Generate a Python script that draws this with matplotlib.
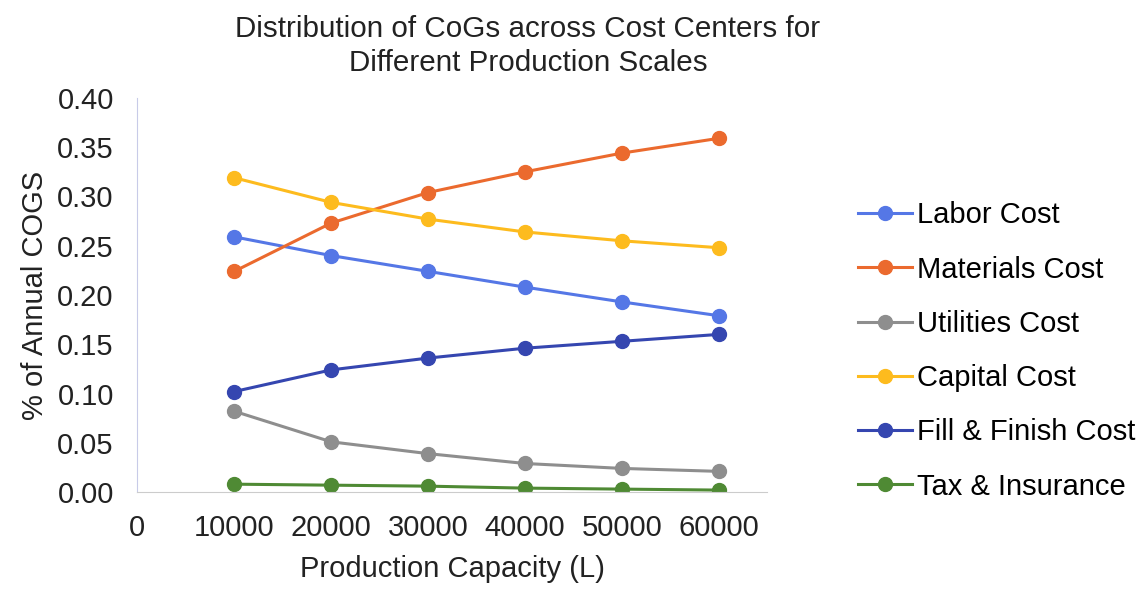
import matplotlib.pyplot as plt
from matplotlib.ticker import FuncFormatter

plt.rcParams['font.family'] = ['Liberation Sans', 'DejaVu Sans']

# data
capacity = [10000, 20000, 30000, 40000, 50000, 60000]
labor = [0.259, 0.240, 0.224, 0.208, 0.193, 0.179]
materials = [0.224, 0.273, 0.304, 0.325, 0.344, 0.359]
utilities = [0.082, 0.051, 0.039, 0.029, 0.024, 0.021]
capital = [0.319, 0.294, 0.277, 0.264, 0.255, 0.248]
fill_finish = [0.102, 0.124, 0.136, 0.146, 0.153, 0.160]
tax_ins = [0.008, 0.007, 0.006, 0.004, 0.003, 0.002]

series_names = ["Labor Cost", "Materials Cost", "Utilities Cost",
                "Capital Cost", "Fill & Finish Cost", "Tax & Insurance"]
series_vals = [labor, materials, utilities, capital, fill_finish, tax_ins]
colors = ["#5577E6", "#EB6A2E", "#8E8E8E", "#FDBB1E", "#3546B0", "#4F8A34"]

fig = plt.figure(figsize=(11.45, 5.9), dpi=100)
ax = fig.add_axes([0.12, 0.166, 0.55, 0.668])

for name, vals, c in zip(series_names, series_vals, colors):
    ax.plot(capacity, vals, color=c, lw=2.2, marker='o', markersize=10,
            label=name)

ax.set_xlim(0, 65000)
ax.set_ylim(0, 0.40)
ax.set_xticks([0, 10000, 20000, 30000, 40000, 50000, 60000])
ax.set_yticks([0.0, 0.05, 0.10, 0.15, 0.20, 0.25, 0.30, 0.35, 0.40])
ax.yaxis.set_major_formatter(FuncFormatter(lambda v, p: f"{v:.2f}"))
ax.tick_params(length=0, labelsize=21, colors='#222222')
ax.tick_params(axis='x', pad=16)
ax.tick_params(axis='y', pad=17)

for s in ['top', 'right']:
    ax.spines[s].set_visible(False)
ax.spines['left'].set_color('#c8cbe8')
ax.spines['bottom'].set_color('#cccccc')
ax.spines['left'].set_linewidth(0.8)
ax.spines['bottom'].set_linewidth(0.8)

ax.set_xlabel("Production Capacity (L)", fontsize=21, color='#222222', labelpad=9)
ax.set_ylabel("% of Annual COGS", fontsize=21, color='#222222', labelpad=6)

fig.text(0.461, 0.922, "Distribution of CoGs across Cost Centers for\nDifferent Production Scales",
         ha='center', va='center', fontsize=21.3, color='#222222', linespacing=1.25)

ax.legend(loc='center left', bbox_to_anchor=(0.739, 0.405),
          bbox_transform=fig.transFigure, frameon=False,
          fontsize=21, handlelength=1.85, handletextpad=0.17,
          labelspacing=0.9, borderaxespad=0)

fig.savefig("out.png", dpi=100)
